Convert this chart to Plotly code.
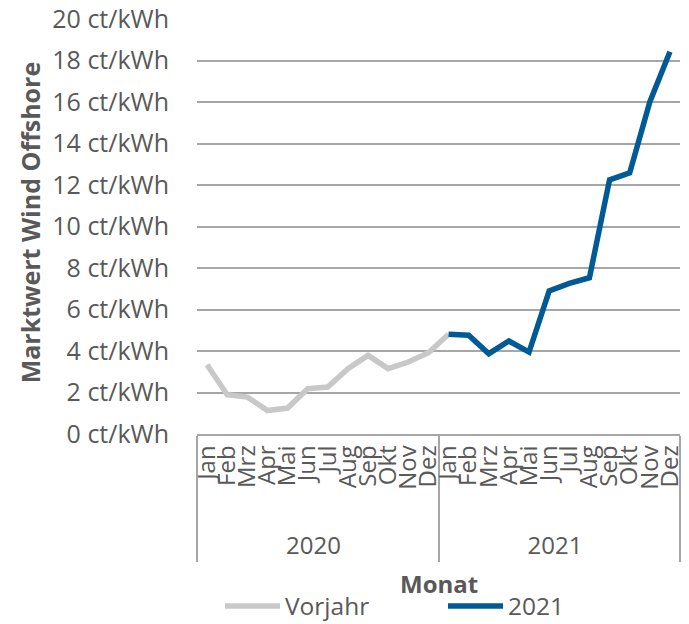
import plotly.graph_objects as go

months = ["Jan", "Feb", "Mrz", "Apr", "Mai", "Jun", "Jul", "Aug", "Sep", "Okt", "Nov", "Dez"]
years = ["2020", "2021"]
vorjahr_values = [3.34, 1.89, 1.78, 1.13, 1.25, 2.18, 2.26, 3.15, 3.79, 3.15, 3.47, 3.92, 4.81]
values_2021 = [4.81, 4.76, 3.87, 4.48, 3.95, 6.90, 7.26, 7.53, 12.25, 12.58, 16.0, 18.42]
y_ticks = list(range(0, 21, 2))
y_ticktext = [f"{v} ct/kWh" for v in y_ticks]

FONT = "Open Sans"
GREY_TXT = "#595959"
GRID = "#a6a6a6"

# non-breaking padding before each month pushes the year row further down
month_lbl = ["\u00a0\u00a0\u00a0" + m for m in months]

vorjahr_x = [[years[0]] * 12 + [years[1]], month_lbl + [month_lbl[0]]]
x_2021 = [[years[1]] * 12, month_lbl]

fig = go.Figure()
fig.add_trace(go.Scatter(
    x=vorjahr_x, y=vorjahr_values, mode="lines", name="Vorjahr",
    line=dict(color="#c8c8c8", width=5.5),
))
fig.add_trace(go.Scatter(
    x=x_2021, y=values_2021, mode="lines", name="2021",
    line=dict(color="#005a96", width=5.5),
))

fig.update_layout(
    width=689, height=624,
    margin=dict(l=197, r=9, t=19, b=190, autoexpand=False),
    paper_bgcolor="white", plot_bgcolor="white",
    font=dict(family=FONT, color=GREY_TXT),
    showlegend=True,
    legend=dict(
        orientation="h", xref="container", yref="container",
        x=220 / 689, xanchor="left", y=1 - 606 / 624, yanchor="middle",
        font=dict(size=24.5, color=GREY_TXT, family=FONT),
        itemwidth=55, entrywidth=153, entrywidthmode="pixels",
        bgcolor="rgba(0,0,0,0)",
    ),
    xaxis=dict(
        type="multicategory",
        range=[-0.5, 23.5], autorange=False,
        showline=True, linecolor=GRID, linewidth=1.5,
        showgrid=False, ticks="", dtick=1,
        tickangle=-90,
        tickfont=dict(size=24, color=GREY_TXT, family=FONT),
        showdividers=True, dividercolor=GRID, dividerwidth=1.5,
        automargin=False,
    ),
    yaxis=dict(
        range=[0, 20], tickvals=y_ticks, ticktext=y_ticktext,
        showgrid=True, gridcolor=GRID, gridwidth=1.5,
        zeroline=False, showline=False, ticks="",
        tickfont=dict(size=25, color=GREY_TXT, family=FONT),
        ticklabelstandoff=27, automargin=False,
    ),
    annotations=[
        dict(text="<b>Marktwert Wind Offshore</b>", textangle=-90,
             xref="paper", yref="paper", x=-0.345, y=0.511,
             xanchor="center", yanchor="middle", showarrow=False,
             font=dict(size=25, color=GREY_TXT, family=FONT)),
        dict(text="<b>Monat</b>",
             xref="paper", yref="paper", x=0.5, y=(434 - 583) / 415,
             xanchor="center", yanchor="middle", showarrow=False,
             font=dict(size=24, color=GREY_TXT, family=FONT)),
    ],
)

fig.write_html("out.html", config={"displayModeBar": False},
               post_script="document.body.style.margin='0';")
